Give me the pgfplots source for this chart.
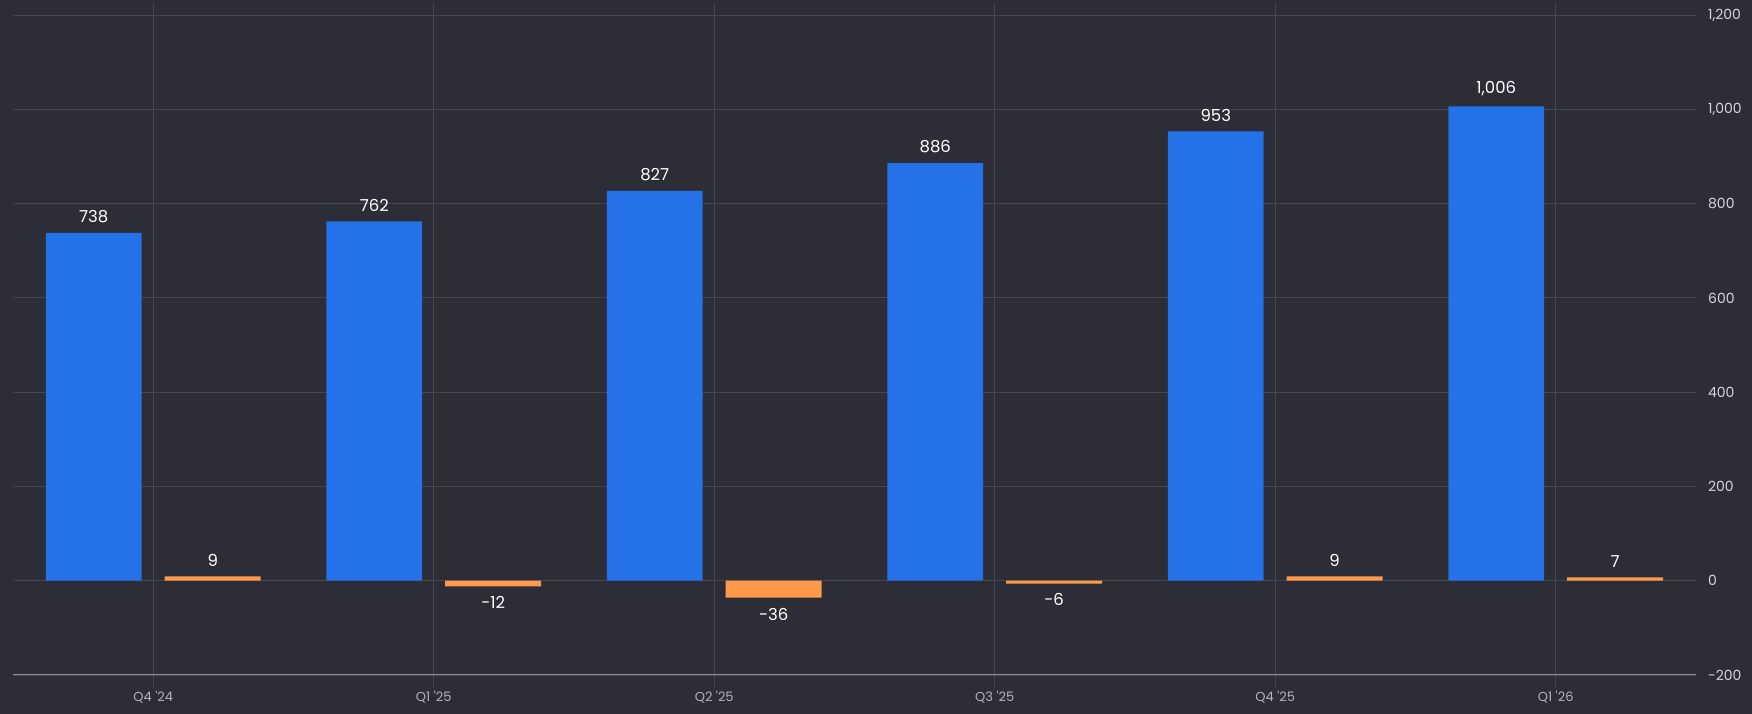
\documentclass[border=0pt]{standalone}
\usepackage{fontspec}
\setmainfont{Poppins}
\usepackage{pgfplots}
\pgfplotsset{compat=1.18}
\definecolor{bg}{HTML}{2C2D37}
\definecolor{barblue}{HTML}{2571E8}
\definecolor{barorange}{HTML}{FF9A4D}
\definecolor{gridc}{HTML}{45464F}
\definecolor{axisc}{HTML}{8E8F96}
\definecolor{ylab}{HTML}{D4D4D8}
\definecolor{xlab}{HTML}{B4B4BA}
\begin{document}
\begin{tikzpicture}
\fill[bg] (-13pt,-39pt) rectangle (1739pt,675pt);
\begin{axis}[
  scale only axis,
  width=1683pt, height=660pt,
  xmin=-0.5, xmax=5.5,
  ymin=-200, ymax=1200,
  ytick={-200,0,...,1200},
  xtick={0,1,2,3,4,5},
  xticklabels={Q4 \textquotesingle24, Q1 \textquotesingle25, Q2 \textquotesingle25, Q3 \textquotesingle25, Q4 \textquotesingle25, Q1 \textquotesingle26},
  grid=major,
  major grid style={color=gridc, line width=0.8pt},
  axis line style={draw=none},
  yticklabel pos=right,
  ytick style={draw=none},
  xtick style={color=gridc, line width=0.8pt},
  xtick align=outside,
  major tick length=12pt,
  /pgf/number format/.cd, 1000 sep={,}, assume math mode=true,
  /pgfplots/.cd,
  yticklabel style={anchor=west, inner sep=0pt, xshift=12pt, color=ylab, font=\fontsize{14}{16}\selectfont},
  xticklabel style={anchor=north, inner sep=0pt, yshift=-4pt, color=xlab, font=\fontsize{13}{15}\selectfont},
  ybar,
  bar width=0.342,
  nodes near coords,
  nodes near coords align={vertical},
  every node near coord/.append style={color=white, inner xsep=0pt, inner ysep=10pt, font=\fontsize{16.5}{18}\selectfont},
]
\addplot[fill=barblue, draw=none, bar shift=-0.212] coordinates {(0,738) (1,762) (2,827) (3,886) (4,953) (5,1006)};
\addplot[fill=barorange, draw=none, bar shift=0.212] coordinates {(0,9) (1,-12) (2,-36) (3,-6) (4,9) (5,7)};
\draw[axisc, line width=1.5pt] (rel axis cs:0,0) -- (rel axis cs:1,0);
\end{axis}
\pgfresetboundingbox
\path (-13pt,-39pt) rectangle (1739pt,675pt);
\end{tikzpicture}
\end{document}
